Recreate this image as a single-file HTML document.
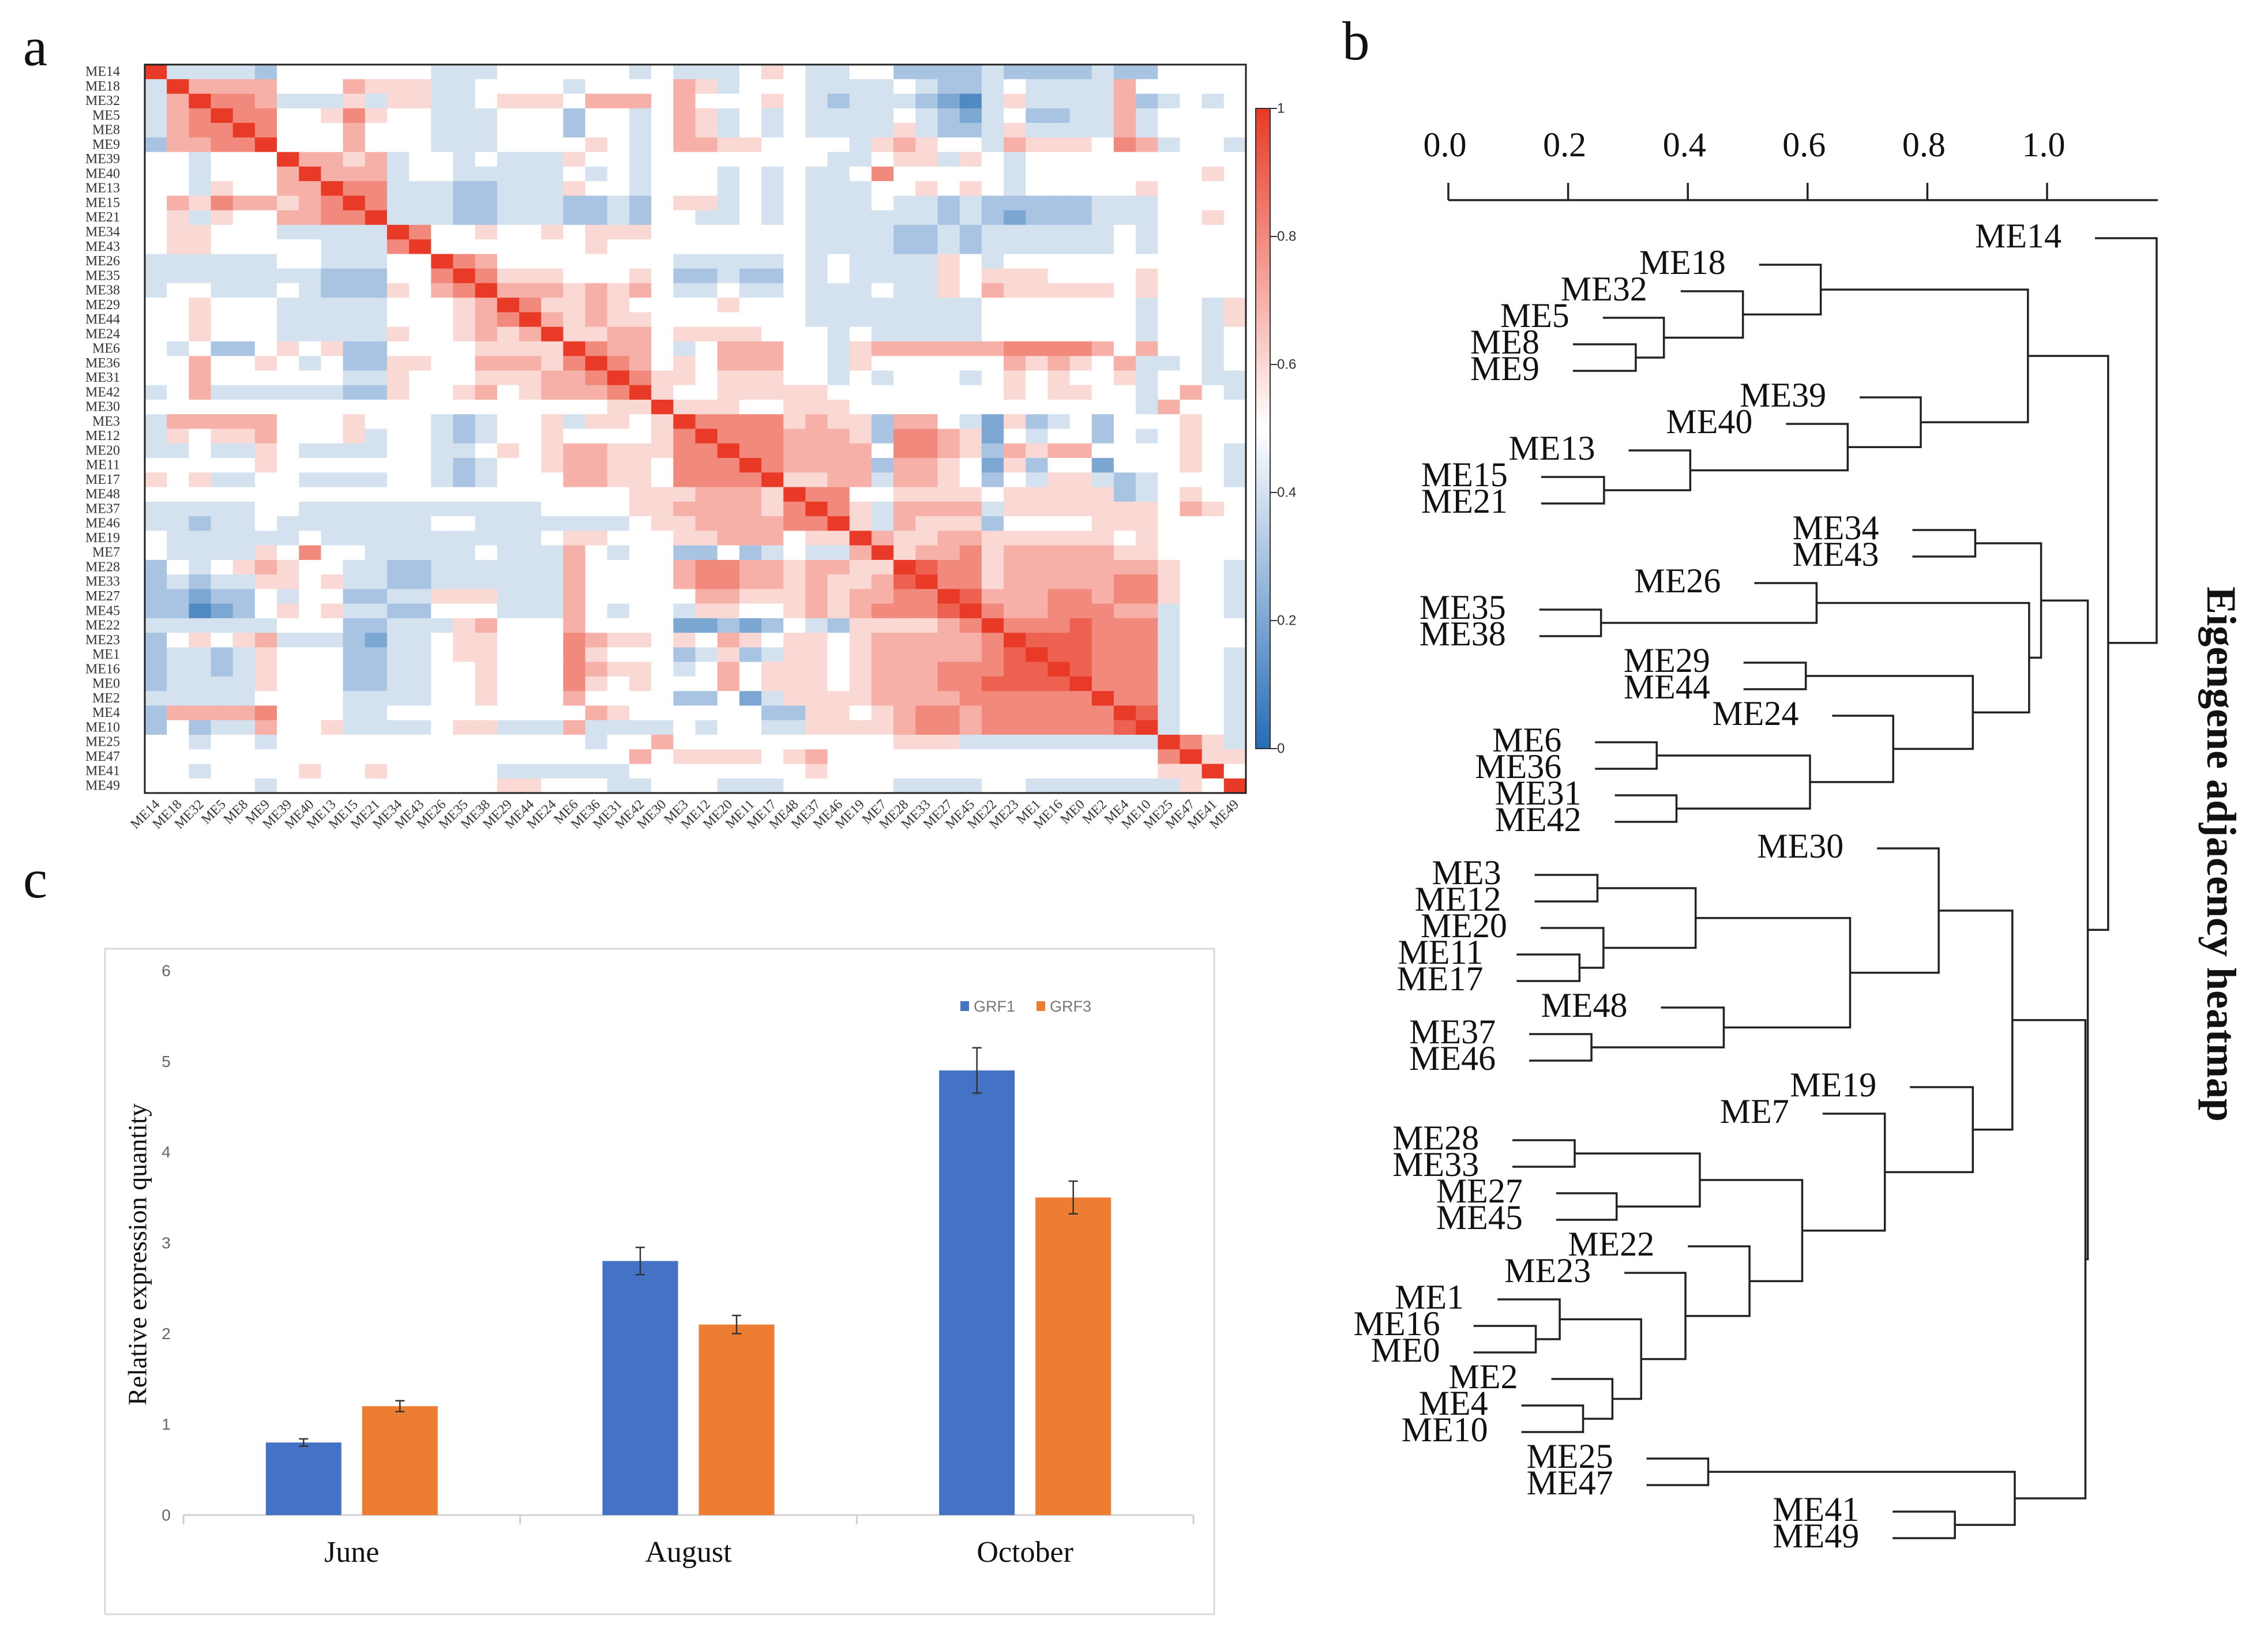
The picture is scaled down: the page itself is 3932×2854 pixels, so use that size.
<!DOCTYPE html>
<html><head><meta charset="utf-8">
<style>
html,body{margin:0;padding:0;background:#fff;}
svg{display:block;}
.serif{font-family:"Liberation Serif",serif;}
.narrow{font-family:"Liberation Sans Narrow","Liberation Sans",sans-serif;}
</style></head>
<body>
<svg id="fig" width="3932" height="2854" viewBox="0 0 3932 2854" xmlns="http://www.w3.org/2000/svg">
<rect x="0" y="0" width="3932" height="2854" fill="#fff"/>
<text x="40" y="113" class="serif" font-size="95" fill="#111">a</text>
<text x="2327" y="103" class="serif" font-size="95" fill="#111">b</text>
<text x="40" y="1556" class="serif" font-size="95" fill="#111">c</text>
<g id="heat"></g>
<g id="cbar"></g>
<g id="dendro"></g>
<text class="serif" font-size="72" font-weight="bold" fill="#111" text-anchor="middle" transform="translate(3851,1481) rotate(90)" dominant-baseline="central">Eigengene adjacency heatmap</text>
<g id="bars"></g>
</svg>
<script>
const NS="http://www.w3.org/2000/svg";
function mk(tag,attrs,parent,txt){const e=document.createElementNS(NS,tag);for(const k in attrs)e.setAttribute(k,attrs[k]);if(txt!==undefined)e.textContent=txt;parent.appendChild(e);return e;}

// ---------- Panel a: heatmap data ----------
const modules=["ME14","ME18","ME32","ME5","ME8","ME9","ME39","ME40","ME13","ME15","ME21","ME34","ME43","ME26","ME35","ME38","ME29","ME44","ME24","ME6","ME36","ME31","ME42","ME30","ME3","ME12","ME20","ME11","ME17","ME48","ME37","ME46","ME19","ME7","ME28","ME33","ME27","ME45","ME22","ME23","ME1","ME16","ME0","ME2","ME4","ME10","ME25","ME47","ME41","ME49"];
// lower triangle, digit d -> adjacency d/10
const lowerRows=["",
"4","47","478","4788","37788","554555","5545557","55465577","576877678","5646557788",
"56655544444","566555554448","4444445544455","44444444333558","455444543336578",
"5565554444455567","55655544444555678","556555444446556767","5453356563355556666",
"55755654533665577768","557555555446555666778","4574444443365567567778",
"55555555555555555555566","477777555655543455646656","4656675556455434556555568",
"44544654444554456567766688","555556555555543455677665888","6564455444455434555776658888",
"55555555555555555555556667776","444445544444444444555566777768","4434454444444554444444566777788",
"54444445444444444456655566777566","544446585544444544475455335345447",
"3545676554433444444755557887767766","34344665644334444447555578877676679",
"332335455334466644475555577666767788","3312356564433555444754554665567678889",
"44444455533444675557555522323543666678","356567444324456655587665657656656777778",
"3443465553344566555865553463466567777789","34434655533445565558766545756665677788899",
"344446555334455655586565557566656777889999","4444455554444556555755553352466667777888888",
"37777855544555555555765555553366567887888888","353447556444456644474444545544666678878888889",
"5545545555555555555545575555555555666444444444","55555555555555555555557566665675555555555555558",
"554555565565555544444455555555655555555555555566","5555545555555555665554455544455555444455444444465 7"];
const valueMin=0, valueMax=1;

// ---------- Panel b: dendrogram data ----------
const leafNames=modules.slice();
const leafHeights=[1.080,0.519,0.388,0.258,0.208,0.208,0.687,0.564,0.301,0.155,0.155,0.775,0.775,0.511,0.152,0.152,0.493,0.493,0.641,0.245,0.245,0.278,0.278,0.716,0.144,0.144,0.154,0.114,0.114,0.355,0.135,0.135,0.771,0.625,0.107,0.107,0.180,0.180,0.400,0.294,0.082,0.042,0.042,0.172,0.122,0.122,0.331,0.331,0.742,0.742];
const axisTicks=[0.0,0.2,0.4,0.6,0.8,1.0];
const treeA=[0.968,[0.622,"ME18",[0.492,"ME32",[0.360,"ME5",[0.313,"ME8","ME9"]]]],[0.789,"ME39",[0.667,"ME40",[0.404,"ME13",[0.260,"ME15","ME21"]]]]];
const treeB=[0.990,[0.880,"ME34","ME43"],[0.970,[0.615,"ME26",[0.255,"ME35","ME38"]],[0.876,[0.597,"ME29","ME44"],[0.743,"ME24",[0.604,[0.348,"ME6","ME36"],[0.381,"ME31","ME42"]]]]]];
const treeC=[0.942,[0.819,"ME30",[0.671,[0.413,[0.249,"ME3","ME12"],[0.259,"ME20",[0.219,"ME11","ME17"]]],[0.460,"ME48",[0.239,"ME37","ME46"]]]],
 [0.876,"ME19",[0.729,"ME7",[0.591,[0.420,[0.211,"ME28","ME33"],[0.281,"ME27","ME45"]],[0.503,"ME22",[0.396,"ME23",[0.322,[0.186,"ME1",[0.146,"ME16","ME0"]],[0.274,"ME2",[0.225,"ME4","ME10"]]]]]]]]];
const treeD=[0.946,[0.434,"ME25","ME47"],[0.846,"ME41","ME49"]];
const treeRoot=[1.183,"ME14",[1.102,treeA,[1.068,treeB,[1.064,treeC,treeD]]]];

// ---------- Panel c: bar data ----------
const months=["June","August","October"];
const grf1=[0.8,2.8,4.9];
const grf3=[1.2,2.1,3.5];
const grf1Err=[0.04,0.15,0.25];
const grf3Err=[0.06,0.10,0.18];
const yTicks=[0,1,2,3,4,5,6];

// ===== draw heatmap =====
(function(){
 const g=document.getElementById('heat');
 const n=modules.length, X0=251, X1=2160, Y0=112, Y1=1375;
 const cw=(X1-X0)/n, ch=(Y1-Y0)/n;
 function val(i,j){ if(i===j) return 1; const a=Math.max(i,j), b=Math.min(i,j); const s=lowerRows[a].replace(/ /g,''); const c=s[b]; return (c===undefined||isNaN(+c))?0.5:(+c)/10; }
 function color(v){ const t=(v-valueMin)/(valueMax-valueMin); let r,gg,b;
  if(t>=0.5){const k=(t-0.5)/0.5; r=255+(232-255)*k; gg=255+(58-255)*k; b=255+(38-255)*k;}
  else {const k=(0.5-t)/0.5; r=255+(38-255)*k; gg=255+(108-255)*k; b=255+(182-255)*k;}
  return `rgb(${Math.round(r)},${Math.round(gg)},${Math.round(b)})`; }
 for(let i=0;i<n;i++){for(let j=0;j<n;j++){
  const r=mk('rect',{x:(X0+j*cw).toFixed(2),y:(Y0+i*ch).toFixed(2),width:(cw+0.6).toFixed(2),height:(ch+0.6).toFixed(2),fill:color(val(i,j))},g);
  
  
 }}
 const fr=mk('rect',{x:X0,y:Y0,width:X1-X0,height:Y1-Y0,fill:'none',stroke:'#222','stroke-width':3},g);
 
 
 for(let i=0;i<n;i++){
  const t=mk('text',{x:208,y:(Y0+(i+0.5)*ch).toFixed(1),'text-anchor':'end','dominant-baseline':'central','font-size':24,fill:'#333',class:'serif'},g,modules[i]);
  
  
  const cx=X0+(i+0.5)*cw;
  const c=mk('text',{transform:`translate(${(cx+8).toFixed(1)},1396) rotate(-45)`,'text-anchor':'end','font-size':24,fill:'#333',class:'serif'},g,modules[i]);
  
  
 }
 // colorbar
 const cb=document.getElementById('cbar');
 const defs=mk('defs',{},cb);
 const lg=mk('linearGradient',{id:'cg',x1:0,y1:1,x2:0,y2:0},defs);
 [[0,'rgb(38,108,182)'],[0.5,'#fff'],[1,'rgb(232,58,38)']].forEach(s=>mk('stop',{offset:s[0],'stop-color':s[1]},lg));
 const CB0=188, CB1=1298;
 const bar=mk('rect',{x:2177,y:CB0,width:25,height:CB1-CB0,fill:'url(#cg)',stroke:'#333','stroke-width':2},cb);
 
 
 [1,0.8,0.6,0.4,0.2,0].forEach(v=>{const y=CB1-(v-valueMin)/(valueMax-valueMin)*(CB1-CB0);
  mk('line',{x1:2202,y1:y,x2:2214,y2:y,stroke:'#333','stroke-width':2},cb);
  const t=mk('text',{x:2214,y:y,'dominant-baseline':'central','font-size':24,fill:'#333',class:'narrow'},cb,String(v));
  
  });
})();

// ===== draw dendrogram =====
(function(){
 const g=document.getElementById('dendro');
 const xd=u=>2511+u*1038;
 const ly=i=>413+i*46;
 const AX=347;
 const ax=mk('line',{x1:xd(0),y1:AX,x2:3741,y2:AX,stroke:'#222','stroke-width':3.5},g);
 
 
 axisTicks.forEach(v=>{mk('line',{x1:xd(v),y1:AX-30,x2:xd(v),y2:AX,stroke:'#222','stroke-width':3.5},g);
  const t=mk('text',{x:xd(v)-6,y:271,'text-anchor':'middle','font-size':60,fill:'#111',class:'serif'},g,v.toFixed(1));
  
  });
 const S={stroke:'#222','stroke-width':3.5,fill:'none'};
 leafNames.forEach((nm,i)=>{
  const t=mk('text',{x:xd(leafHeights[i])-58,y:ly(i)-4,'text-anchor':'end','dominant-baseline':'central','font-size':60,fill:'#111',class:'serif'},g,nm);
  
  
 });
 function pos(node){ if(typeof node==='string'){const i=leafNames.indexOf(node);return {x:xd(leafHeights[i]),y:ly(i)};}
  const a=pos(node[1]), b=pos(node[2]); const x=xd(node[0]);
  const p=mk('path',Object.assign({d:`M${a.x},${a.y}H${x}V${b.y}H${b.x}`},S),g);
  
  
  return {x:x,y:(a.y+b.y)/2}; }
 pos(treeRoot);
})();

// ===== draw bar chart =====
(function(){
 const g=document.getElementById('bars');
 const box=mk('rect',{x:182,y:1645,width:1923,height:1154,fill:'#fff',stroke:'#d9d9d9','stroke-width':3},g);
 
 
 const Y0=2627, unit=(2627-1683)/6;
 const yv=v=>Y0-v*unit;
 const XL=318, XR=2069, cat=(XR-XL)/months.length;
 yTicks.forEach(v=>{const t=mk('text',{x:288,y:yv(v),'text-anchor':'middle','dominant-baseline':'central','font-size':28,fill:'#666',class:'narrow'},g,String(v));
  
  });
 const xa=mk('line',{x1:XL,y1:Y0,x2:XR,y2:Y0,stroke:'#d0d0d0','stroke-width':3},g);
 
 
 for(let i=0;i<=months.length;i++) mk('line',{x1:XL+i*cat,y1:Y0,x2:XL+i*cat,y2:Y0+16,stroke:'#d0d0d0','stroke-width':3},g);
 const bw=131, gap=18;
 months.forEach((m,i)=>{
  const c=XL+(i+0.5)*cat;
  [[grf1,grf1Err,'#4472c4',c-gap-bw,'bar-grf1-'],[grf3,grf3Err,'#ed7d31',c+gap,'bar-grf3-']].forEach(s=>{
   const v=s[0][i], e=s[1][i];
   const r=mk('rect',{x:s[3],y:yv(v),width:bw,height:v*unit,fill:s[2]},g);
   
   
   const ex=s[3]+bw/2;
   const eb=mk('path',{d:`M${ex},${yv(v+e)}V${yv(v-e)}M${ex-8},${yv(v+e)}H${ex+8}M${ex-8},${yv(v-e)}H${ex+8}`,stroke:'#333','stroke-width':2.5,fill:'none'},g);
   
   
  });
  const t=mk('text',{x:c,y:2708,'text-anchor':'middle','font-size':52,fill:'#111',class:'serif'},g,m);
  
  
 });
 const yt=mk('text',{transform:'translate(238,2175) rotate(-90)','text-anchor':'middle','dominant-baseline':'central','font-size':46,fill:'#111',class:'serif'},g,'Relative expression quantity');
 
 
 [['GRF1','#4472c4',1665],['GRF3','#ed7d31',1797]].forEach(l=>{
  const sw=mk('rect',{x:l[2],y:1736,width:15,height:17,fill:l[1]},g);
  
  
  const t=mk('text',{x:l[2]+23,y:1745,'dominant-baseline':'central','font-size':27,fill:'#777',class:'narrow'},g,l[0]);
  
  
 });
})();
</script>
</body></html>
